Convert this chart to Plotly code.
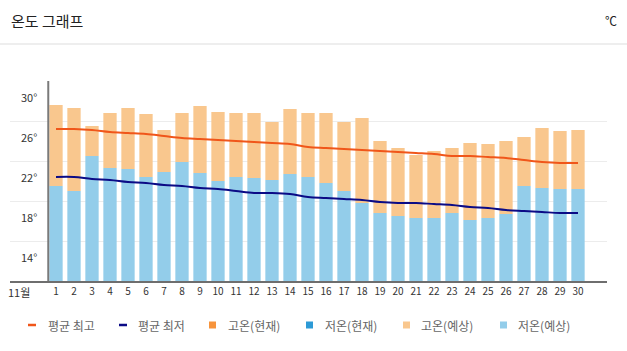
import plotly.graph_objects as go

days = list(range(1, 31))
day_labels = [str(d) for d in days]
high_fc = [29.6, 29.3, 27.5, 28.8, 29.3, 28.7, 27.1, 28.8, 29.5, 28.9,
           28.8, 28.8, 27.9, 29.2, 28.8, 28.8, 27.9, 28.3, 26.0, 25.3,
           24.6, 25.0, 25.3, 25.8, 25.7, 26.0, 26.4, 27.3, 27.0, 27.1]
low_fc = [21.5, 21.0, 24.5, 23.3, 23.2, 22.4, 22.9, 23.9, 22.8, 22.0,
          22.4, 22.3, 22.1, 22.7, 22.4, 21.8, 21.0, 19.8, 18.8, 18.5,
          18.3, 18.3, 18.8, 18.1, 18.3, 18.7, 21.5, 21.3, 21.2, 21.2]
avg_high = [27.2, 27.2, 27.1, 26.9, 26.8, 26.7, 26.5, 26.3, 26.2, 26.1,
            26.0, 25.9, 25.8, 25.7, 25.4, 25.3, 25.2, 25.1, 25.0, 24.9,
            24.8, 24.7, 24.5, 24.5, 24.4, 24.3, 24.1, 23.9, 23.8, 23.8]
avg_low = [22.4, 22.4, 22.2, 22.1, 21.9, 21.8, 21.6, 21.5, 21.3, 21.2,
           21.0, 20.8, 20.8, 20.7, 20.4, 20.3, 20.2, 20.1, 19.9, 19.8,
           19.8, 19.7, 19.6, 19.4, 19.3, 19.1, 19.0, 18.9, 18.8, 18.8]
y_labels = [30, 26, 22, 18, 14]
grid_vals = [12, 16, 20, 24, 28, 32]
legend_names = ["평균 최고", "평균 최저", "고온(현재)", "저온(현재)", "고온(예상)", "저온(예상)"]

FONT = "Noto Sans CJK KR"
C_AVG_HIGH = "#F0561A"
C_AVG_LOW = "#0B0B86"
C_HIGH_NOW = "#F7943C"
C_LOW_NOW = "#2D9AD6"
C_HIGH_FC = "#F9C78E"
C_LOW_FC = "#93CDEA"

W, H = 627, 351
L, R, T, B = 10, 20, 81, 70
PW = W - L - R
PH = H - T - B


def px(xp):
    return (xp - L) / PW


def py(yp):
    return (H - B - yp) / PH


fig = go.Figure()
fig.add_trace(go.Bar(x=days, y=low_fc, width=0.74, marker_color=C_LOW_FC,
                     marker_line_width=0, name="저온(예상)", showlegend=False))
fig.add_trace(go.Bar(x=days, y=[h - l for h, l in zip(high_fc, low_fc)], base=low_fc,
                     width=0.74, marker_color=C_HIGH_FC, marker_line_width=0,
                     name="고온(예상)", showlegend=False))
fig.add_trace(go.Scatter(x=days, y=avg_high, mode="lines", line=dict(color=C_AVG_HIGH, width=2, shape="spline"),
                         name="평균 최고", showlegend=False))
fig.add_trace(go.Scatter(x=days, y=avg_low, mode="lines", line=dict(color=C_AVG_LOW, width=2, shape="spline"),
                         name="평균 최저", showlegend=False))

fig.update_layout(
    width=W, height=H, barmode="overlay",
    margin=dict(l=L, r=R, t=T, b=B),
    paper_bgcolor="white", plot_bgcolor="white",
    font=dict(family=FONT, color="#333"),
    xaxis=dict(range=[1 - 46 / 18, 1 + 551 / 18], tickvals=days, ticktext=day_labels,
               showgrid=False, zeroline=False, showline=True, linecolor="#6e6e6e", linewidth=2,
               ticks="", tickfont=dict(size=10, color="#333", family=FONT)),
    yaxis=dict(range=[12, 32], tickvals=grid_vals, showticklabels=False, showgrid=True,
               gridcolor="#ececec", gridwidth=1, zeroline=False, showline=False),
)

# vertical axis line
fig.add_shape(type="line", xref="x", yref="y", x0=0.57, x1=0.57, y0=12, y1=32,
              line=dict(color="#7a7a7a", width=2))
# separator under title
fig.add_shape(type="line", xref="paper", yref="paper", x0=px(0), x1=px(W), y0=py(44), y1=py(44),
              line=dict(color="#dddddd", width=1))

ann = []
ann.append(dict(text="온도 그래프", xref="paper", yref="paper", x=px(9), y=py(21), xanchor="left",
                yanchor="middle", showarrow=False, font=dict(size=15, color="#222", family=FONT)))
ann.append(dict(text="℃", xref="paper", yref="paper", x=px(611), y=py(21), xanchor="center",
                yanchor="middle", showarrow=False, font=dict(size=12, color="#222", family=FONT)))
for v in y_labels:
    ann.append(dict(text=f"{v}°", xref="paper", yref="y", x=px(29), y=v, yshift=4, xanchor="center",
                    yanchor="middle", showarrow=False, font=dict(size=11, color="#333", family=FONT)))
ann.append(dict(text="11월", xref="paper", yref="paper", x=px(19), y=py(292), xanchor="center",
                yanchor="middle", showarrow=False, font=dict(size=11, color="#333", family=FONT)))

# manual legend
leg_y = 325
dash_x = [(28, 36, C_AVG_HIGH), (119, 127, C_AVG_LOW)]
for x0, x1, c in dash_x:
    fig.add_shape(type="line", xref="paper", yref="paper", x0=px(x0), x1=px(x1), y0=py(leg_y), y1=py(leg_y),
                  line=dict(color=c, width=2.5))
sq = [(209, C_HIGH_NOW), (306, C_LOW_NOW), (403, C_HIGH_FC), (500, C_LOW_FC)]
for x0, c in sq:
    fig.add_shape(type="rect", xref="paper", yref="paper", x0=px(x0), x1=px(x0 + 7),
                  y0=py(leg_y + 3.5), y1=py(leg_y - 3.5), fillcolor=c, line=dict(width=0))
text_x = [46, 136, 226, 323, 419, 516]
for tx, name in zip(text_x, legend_names):
    ann.append(dict(text=name, xref="paper", yref="paper", x=px(tx), y=py(leg_y), xanchor="left",
                    yanchor="middle", showarrow=False, font=dict(size=12, color="#666", family=FONT)))

fig.update_layout(annotations=ann)
fig.write_html("out.html")
